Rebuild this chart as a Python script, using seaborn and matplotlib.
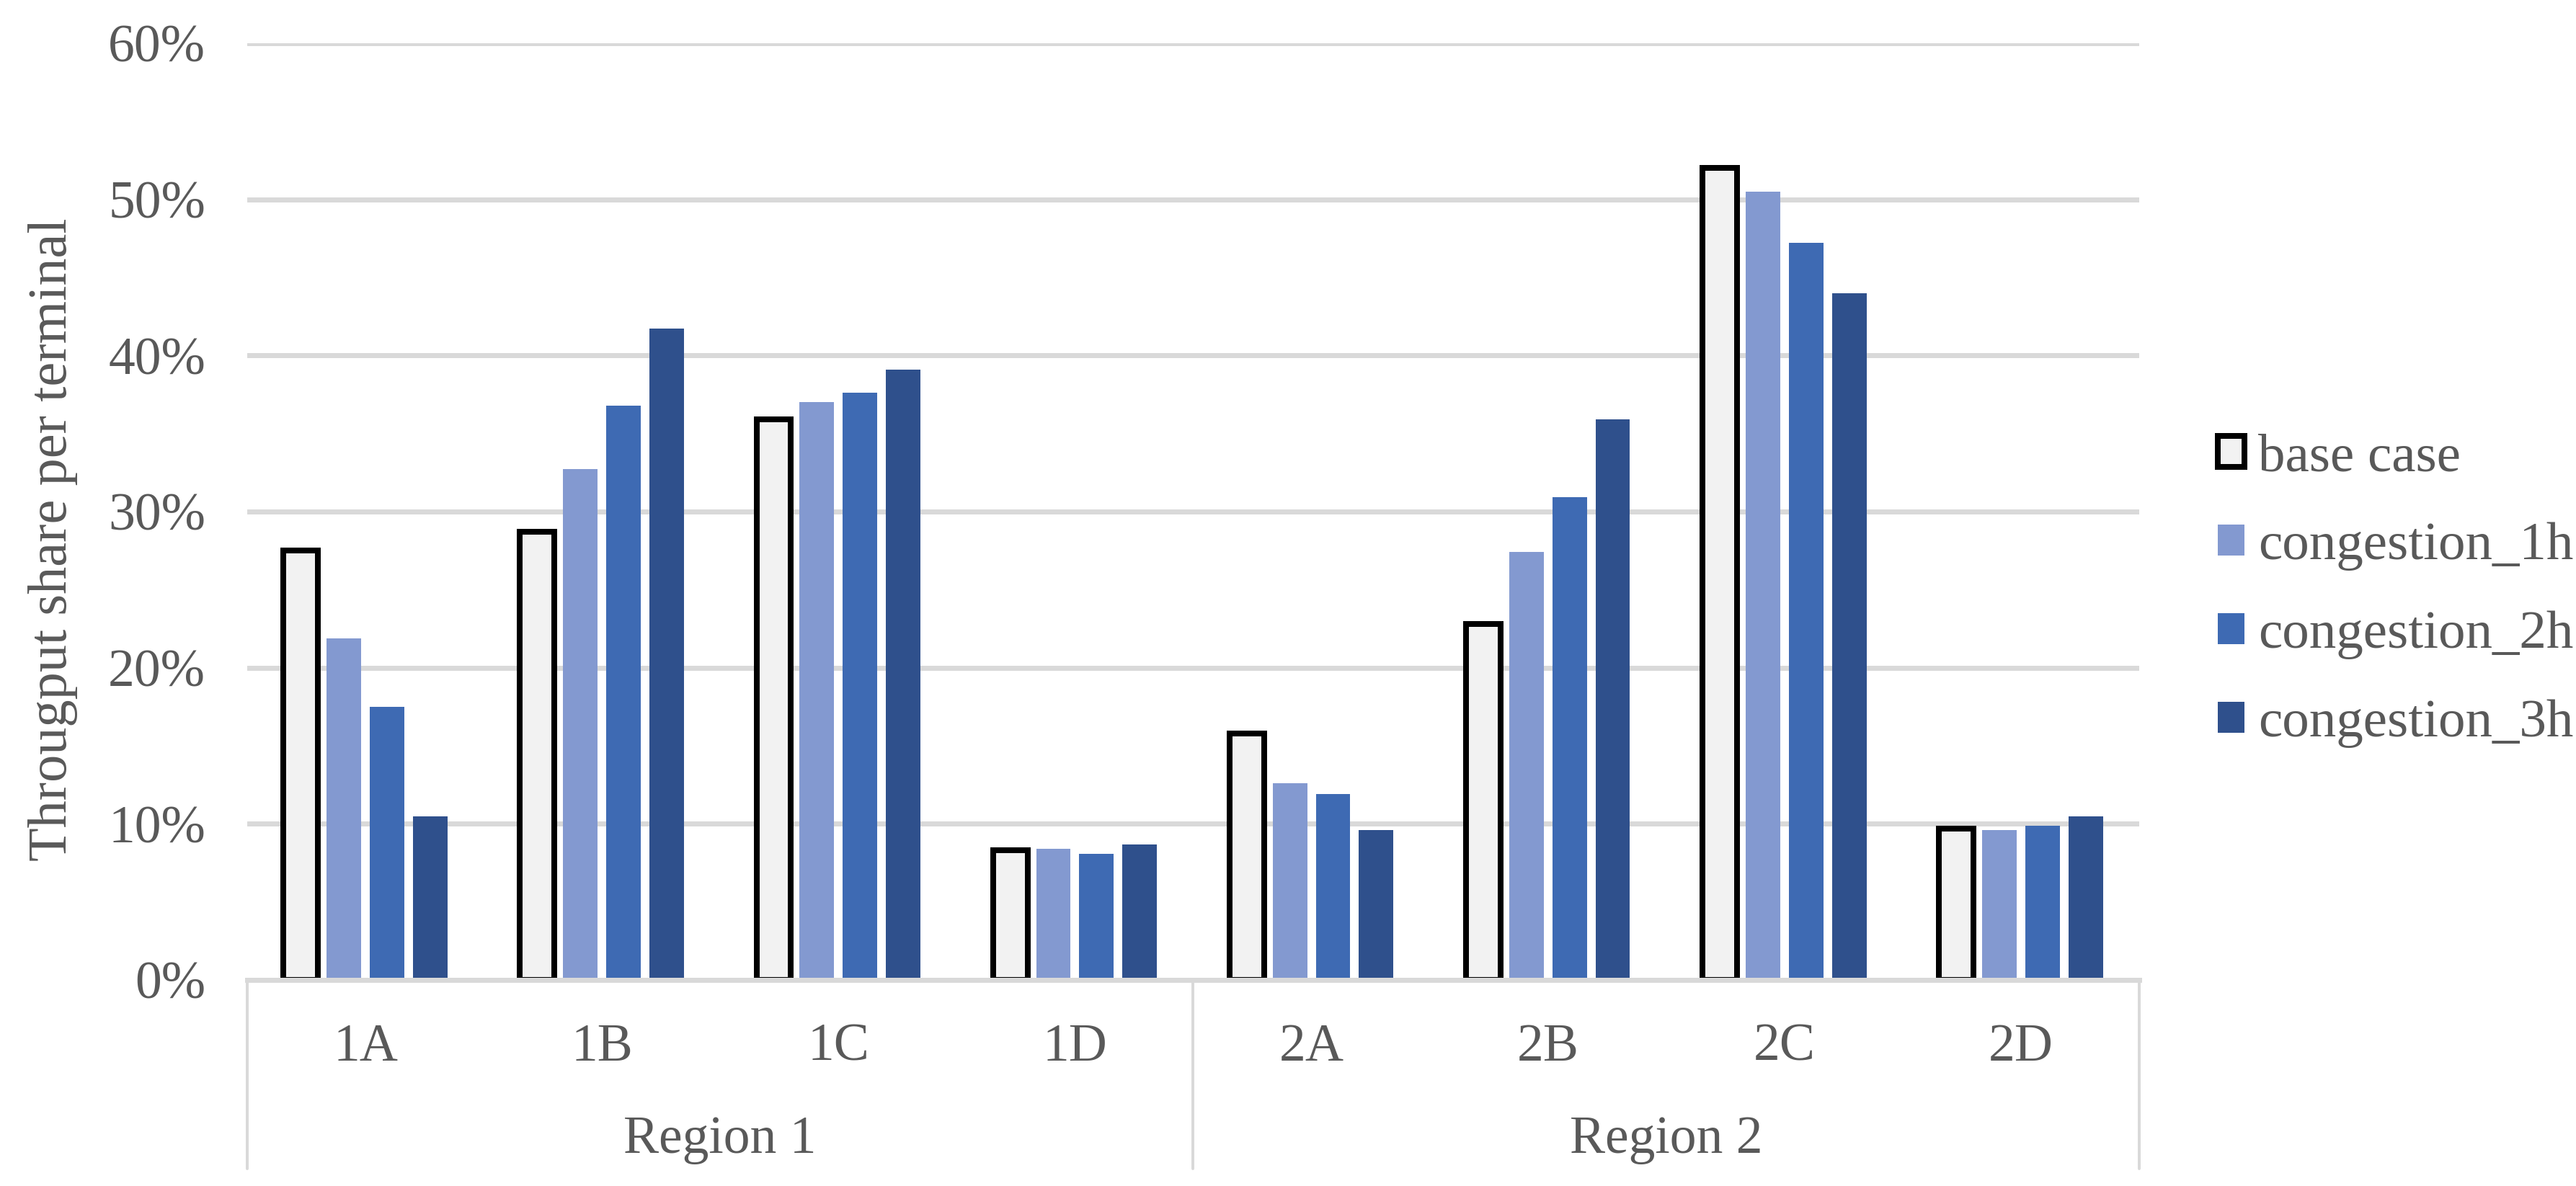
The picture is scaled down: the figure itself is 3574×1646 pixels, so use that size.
import matplotlib
matplotlib.use("Agg")
import matplotlib.pyplot as plt
import matplotlib.transforms as mtransforms
from matplotlib.patches import Patch
import seaborn as sns
import pandas as pd

# ---- data ----
terminals = ["1A", "1B", "1C", "1D", "2A", "2B", "2C", "2D"]
regions = ["Region 1", "Region 2"]
scenarios = ["base case", "congestion_1h", "congestion_2h", "congestion_3h"]
base_case = [0.275, 0.287, 0.359, 0.083, 0.158, 0.228, 0.520, 0.097]
congestion_1h = [0.219, 0.327, 0.370, 0.084, 0.126, 0.274, 0.505, 0.096]
congestion_2h = [0.175, 0.368, 0.376, 0.081, 0.119, 0.309, 0.472, 0.099]
congestion_3h = [0.105, 0.417, 0.391, 0.087, 0.096, 0.359, 0.440, 0.105]
y_ticks = [0, 0.1, 0.2, 0.3, 0.4, 0.5, 0.6]
y_tick_labels = ["0%", "10%", "20%", "30%", "40%", "50%", "60%"]

series = [base_case, congestion_1h, congestion_2h, congestion_3h]
rows = []
for s, vals in zip(scenarios, series):
    for t, v in zip(terminals, vals):
        rows.append({"terminal": t, "scenario": s, "share": v})
df = pd.DataFrame(rows)

colors = ["#F2F2F2", "#8399D0", "#3E6AB3", "#2F508C"]
grid_c = "#D9D9D9"
text_c = "#595959"

sns.set_theme(style="white")
plt.rcParams["font.family"] = ["Liberation Serif", "DejaVu Serif"]

W, H, DPI = 3574, 1646, 200
PX = 72 / DPI  # points per pixel
fig = plt.figure(figsize=(W / DPI, H / DPI), dpi=DPI)
ax = fig.add_axes([343 / W, 1 - 1360 / H, (2968 - 343) / W, 1300 / H])

sns.barplot(data=df, x="terminal", y="share", hue="scenario", order=terminals,
            hue_order=scenarios, palette=colors, width=0.73, gap=0.2,
            ax=ax, legend=False, saturation=1, linewidth=0, zorder=3)

for p in ax.containers[0]:
    p.set_edgecolor("black")
    p.set_linewidth(8 * PX)

ax.set_ylim(0, 0.6)
ax.set_xlim(-0.5, len(terminals) - 0.5)
ax.set_yticks(y_ticks)
ax.set_yticklabels(y_tick_labels)
ax.yaxis.grid(True, color=grid_c, linewidth=7 * PX, zorder=0)
ax.set_axisbelow(True)
for sp in ["top", "right", "left"]:
    ax.spines[sp].set_visible(False)
ax.spines["bottom"].set_color(grid_c)
ax.spines["bottom"].set_linewidth(7 * PX)
ax.spines["bottom"].set_zorder(4)
ax.tick_params(axis="both", length=0, labelsize=26.5, colors=text_c)
ax.tick_params(axis="y", pad=58 * PX)
ax.tick_params(axis="x", pad=60 * PX)
ax.set_xlabel("")
ax.set_ylabel("")

trans = mtransforms.blended_transform_factory(ax.transData, ax.transAxes)
for xs in [-0.5, 3.5, 7.5]:
    ax.plot([xs, xs], [0, -262 / 1300], transform=trans, color=grid_c,
            linewidth=4 * PX, clip_on=False, zorder=1)
for i, r in enumerate(regions):
    ax.text(1.5 + 4 * i, -240 / 1300, r, transform=trans, ha="center",
            va="baseline", fontsize=26.5, color=text_c)

fig.text(74 / W, 1 - 749 / H, "Througput share per terminal", rotation=90,
         ha="center", va="center", fontsize=27.5, color=text_c)

handles = [Patch(facecolor=colors[0], edgecolor="black", linewidth=8 * PX)] + \
          [Patch(facecolor=c, edgecolor="none") for c in colors[1:]]
leg = fig.legend(handles, scenarios, loc="center left",
                 bbox_to_anchor=(3077 / W, 1 - 820 / H), frameon=False,
                 fontsize=27, handlelength=0.49, handleheight=0.49,
                 handletextpad=0.26, labelspacing=0.74, borderpad=0,
                 borderaxespad=0)
for t in leg.get_texts():
    t.set_color(text_c)

fig.savefig("out.png", dpi=DPI)
